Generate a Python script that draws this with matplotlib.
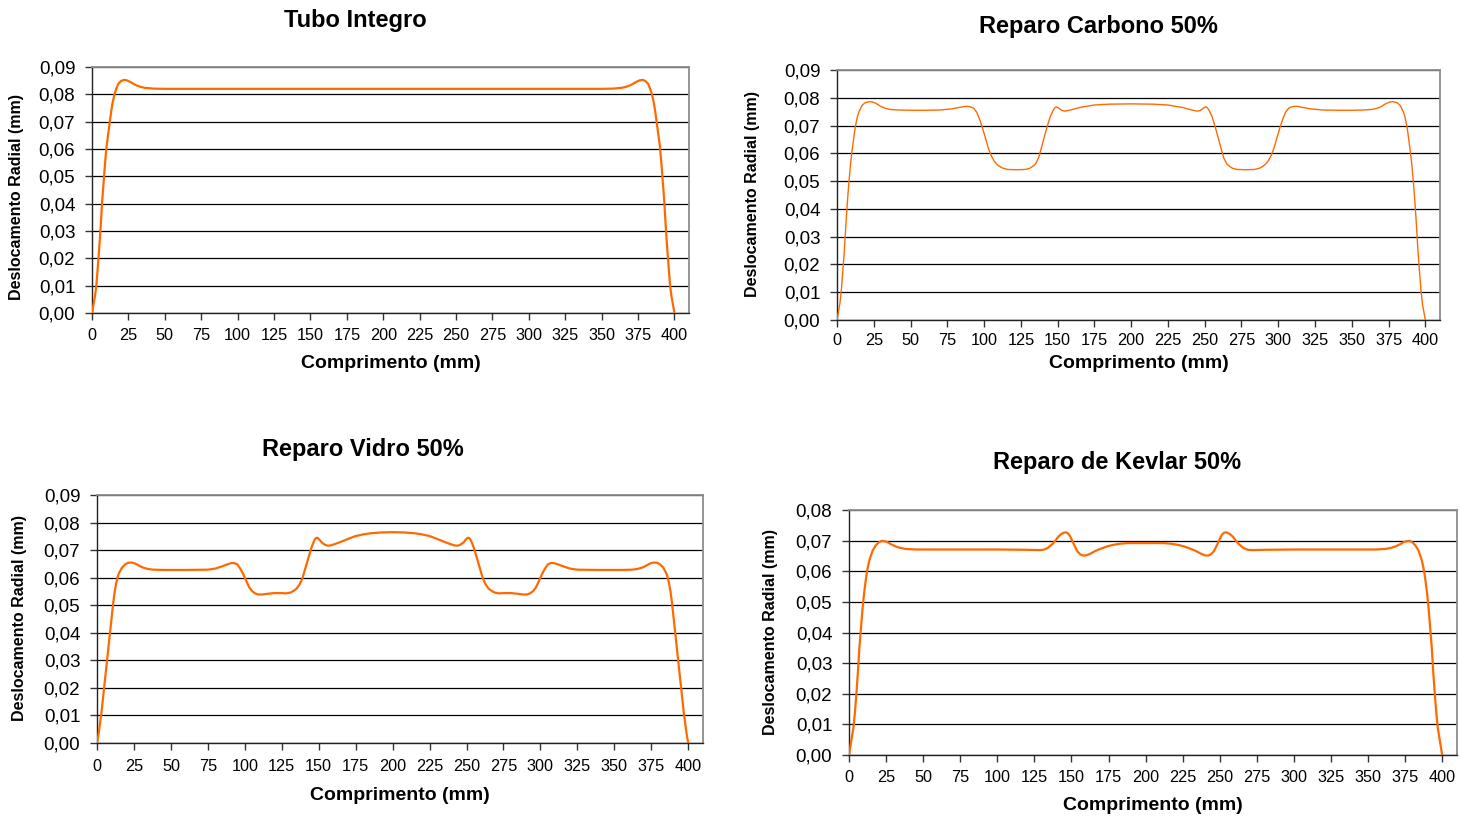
import numpy as np
import matplotlib
matplotlib.use("Agg")
import matplotlib.pyplot as plt
from matplotlib.ticker import FixedLocator, FuncFormatter

plt.rcParams['font.family'] = ['Liberation Sans', 'DejaVu Sans']

# (comprimento mm, deslocamento radial mm)
integro_pts = [
    (0, 0), (1, 0.003), (2, 0.006), (3, 0.01), (4, 0.017), (5, 0.024), (6, 0.032),
    (7, 0.041), (8, 0.048), (9, 0.055), (10, 0.061), (11, 0.065), (12, 0.069),
    (13, 0.073), (14, 0.0765), (15, 0.079), (16, 0.081), (18, 0.0838), (20, 0.0849),
    (22, 0.0853), (24, 0.0851), (26, 0.0846), (28, 0.084), (30, 0.0834), (33, 0.0828),
    (36, 0.0824), (42, 0.0821), (50, 0.082), (100, 0.082), (150, 0.082), (200, 0.082),
    (250, 0.082), (300, 0.082), (350, 0.082), (358, 0.0821), (364, 0.0824),
    (367, 0.0828), (370, 0.0834), (372, 0.084), (374, 0.0846), (376, 0.0851),
    (378, 0.0853), (380, 0.0849), (382, 0.0838), (384, 0.081), (385, 0.079),
    (386, 0.0765), (387, 0.073), (388, 0.069), (389, 0.065), (390, 0.061),
    (391, 0.055), (392, 0.048), (393, 0.041), (394, 0.032), (395, 0.024), (396, 0.017),
    (397, 0.01), (398, 0.006), (399, 0.003), (400, 0)]

carbono_pts = [
    (0, 0), (1, 0.003), (2, 0.006), (3, 0.011), (4, 0.018), (5, 0.025), (6, 0.034),
    (7, 0.042), (8, 0.049), (9, 0.055), (10, 0.060), (11, 0.064), (12, 0.068),
    (13, 0.071), (14, 0.0735), (15, 0.075), (17, 0.0772), (19, 0.0782), (22, 0.0786),
    (24, 0.0785), (26, 0.0781), (28, 0.0775), (30, 0.0768), (33, 0.0762), (36, 0.0758),
    (42, 0.0756), (50, 0.0755), (60, 0.0755), (70, 0.0756), (78, 0.076), (84, 0.0766),
    (87, 0.0769), (89, 0.0769), (91, 0.0767), (93, 0.0762), (95, 0.0748), (97, 0.0722),
    (99, 0.069), (101, 0.0653), (103, 0.0617), (105, 0.059), (107, 0.0571),
    (109, 0.0559), (112, 0.0548), (116, 0.0542), (122, 0.0541), (128, 0.0542),
    (131, 0.0546), (133, 0.0553), (135, 0.0562), (137, 0.0583), (139, 0.062),
    (141, 0.066), (143, 0.0698), (145, 0.0732), (147, 0.0755), (148, 0.0763),
    (149, 0.0767), (150, 0.0766), (151, 0.0762), (153, 0.0754), (155, 0.0752),
    (158, 0.0755), (165, 0.0765), (175, 0.0774), (185, 0.0777), (200, 0.0778),
    (215, 0.0777), (225, 0.0774), (235, 0.0765), (242, 0.0755), (245, 0.0752),
    (247, 0.0754), (249, 0.0762), (250, 0.0766), (251, 0.0767), (252, 0.0763),
    (253, 0.0755), (255, 0.0732), (257, 0.0698), (259, 0.066), (261, 0.062),
    (263, 0.0583), (265, 0.0562), (267, 0.0553), (269, 0.0546), (272, 0.0542),
    (278, 0.0541), (284, 0.0542), (288, 0.0548), (291, 0.0559), (293, 0.0571),
    (295, 0.059), (297, 0.0617), (299, 0.0653), (301, 0.069), (303, 0.0722),
    (305, 0.0748), (307, 0.0762), (309, 0.0767), (311, 0.0769), (313, 0.0769),
    (316, 0.0766), (322, 0.076), (330, 0.0756), (340, 0.0755), (350, 0.0755),
    (358, 0.0756), (364, 0.0758), (367, 0.0762), (370, 0.0768), (372, 0.0775),
    (374, 0.0781), (376, 0.0785), (378, 0.0786), (381, 0.0782), (383, 0.0772),
    (385, 0.075), (386, 0.0735), (387, 0.071), (388, 0.068), (389, 0.064), (390, 0.060),
    (391, 0.055), (392, 0.049), (393, 0.042), (394, 0.034), (395, 0.025), (396, 0.018),
    (397, 0.011), (398, 0.006), (399, 0.003), (400, 0)]

vidro_pts = [
    (0, 0), (1, 0.003), (2, 0.007), (3, 0.011), (5, 0.021), (7, 0.031), (9, 0.041),
    (11, 0.051), (12, 0.055), (13, 0.058), (14, 0.0603), (15, 0.0618), (17, 0.0637),
    (19, 0.0648), (21, 0.0654), (23, 0.0655), (25, 0.0653), (27, 0.0648), (29, 0.0642),
    (31, 0.0637), (34, 0.0632), (38, 0.0629), (45, 0.0628), (60, 0.0628), (75, 0.0629),
    (80, 0.0633), (84, 0.0640), (88, 0.0648), (91, 0.0653), (93, 0.0653), (95, 0.0648),
    (97, 0.0632), (99, 0.0612), (101, 0.0588), (103, 0.0565), (105, 0.0551),
    (107, 0.0543), (109, 0.0539), (112, 0.0539), (116, 0.0542), (120, 0.0544),
    (125, 0.0544), (128, 0.0543), (131, 0.0546), (133, 0.0552), (135, 0.056),
    (137, 0.0575), (139, 0.0598), (141, 0.0635), (143, 0.0672), (145, 0.0708),
    (147, 0.0735), (148, 0.0743), (149, 0.0745), (150, 0.0741), (152, 0.0728),
    (154, 0.0720), (156, 0.0716), (158, 0.0717), (161, 0.0722), (165, 0.073),
    (170, 0.0741), (175, 0.0751), (180, 0.0757), (185, 0.0761), (192, 0.0764),
    (200, 0.0765), (208, 0.0764), (215, 0.0761), (220, 0.0757), (225, 0.0751),
    (230, 0.0741), (235, 0.073), (239, 0.0722), (242, 0.0717), (244, 0.0716),
    (246, 0.0720), (248, 0.0728), (250, 0.0741), (251, 0.0745), (252, 0.0743),
    (253, 0.0735), (255, 0.0708), (257, 0.0672), (259, 0.0635), (261, 0.0598),
    (263, 0.0575), (265, 0.056), (267, 0.0552), (269, 0.0546), (272, 0.0543),
    (275, 0.0544), (280, 0.0544), (284, 0.0542), (288, 0.0539), (291, 0.0539),
    (293, 0.0543), (295, 0.0551), (297, 0.0565), (299, 0.0588), (301, 0.0612),
    (303, 0.0632), (305, 0.0648), (307, 0.0653), (309, 0.0653), (312, 0.0648),
    (316, 0.064), (320, 0.0633), (325, 0.0629), (340, 0.0628), (355, 0.0628),
    (362, 0.0629), (366, 0.0632), (369, 0.0637), (371, 0.0642), (373, 0.0648),
    (375, 0.0653), (377, 0.0655), (379, 0.0654), (381, 0.0648), (383, 0.0637),
    (385, 0.0618), (386, 0.0603), (387, 0.058), (388, 0.055), (389, 0.051),
    (391, 0.041), (393, 0.031), (395, 0.021), (397, 0.011), (398, 0.007),
    (399, 0.003), (400, 0)]

kevlar_pts = [
    (0, 0), (1, 0.003), (2, 0.006), (3, 0.009), (4, 0.014), (5, 0.02), (6, 0.027),
    (7, 0.035), (8, 0.041), (9, 0.047), (10, 0.052), (11, 0.056), (12, 0.0595),
    (13, 0.062), (14, 0.064), (16, 0.0668), (18, 0.0684), (20, 0.0694), (22, 0.0699),
    (24, 0.0698), (26, 0.0695), (28, 0.0689), (31, 0.0682), (34, 0.0677), (38, 0.0673),
    (45, 0.0671), (60, 0.0671), (100, 0.0671), (120, 0.067), (128, 0.0669),
    (131, 0.067), (134, 0.0676), (137, 0.0688), (139, 0.0699), (141, 0.0712),
    (143, 0.0721), (145, 0.0726), (146, 0.0727), (147, 0.0726), (148, 0.0722),
    (149, 0.0715), (150, 0.0705), (152, 0.0684), (154, 0.0665), (156, 0.0655),
    (158, 0.0651), (160, 0.0652), (163, 0.0658), (166, 0.0666), (170, 0.0674),
    (174, 0.0681), (178, 0.0686), (183, 0.069), (188, 0.0692), (200, 0.0692),
    (212, 0.0692), (217, 0.069), (222, 0.0686), (226, 0.0681), (230, 0.0674),
    (234, 0.0666), (237, 0.0658), (240, 0.0652), (242, 0.0651), (244, 0.0655),
    (246, 0.0665), (248, 0.0684), (250, 0.0705), (251, 0.0715), (252, 0.0722),
    (253, 0.0726), (254, 0.0727), (255, 0.0726), (257, 0.0721), (259, 0.0712),
    (261, 0.0699), (263, 0.0688), (266, 0.0676), (269, 0.067), (272, 0.0669),
    (280, 0.067), (300, 0.0671), (340, 0.0671), (355, 0.0671), (362, 0.0673),
    (366, 0.0677), (369, 0.0682), (372, 0.0689), (374, 0.0695), (376, 0.0698),
    (378, 0.0699), (380, 0.0694), (382, 0.0684), (384, 0.0668), (386, 0.064),
    (387, 0.062), (388, 0.0595), (389, 0.056), (390, 0.052), (391, 0.047),
    (392, 0.041), (393, 0.035), (394, 0.027), (395, 0.02), (396, 0.014), (397, 0.009),
    (398, 0.006), (399, 0.003), (400, 0)]

titles = ['Tubo Integro', 'Reparo Carbono 50%', 'Reparo Vidro 50%', 'Reparo de Kevlar 50%']
x_ticks = list(range(0, 401, 25))

W, H = 1460, 816
fig = plt.figure(figsize=(W / 100, H / 100), dpi=100)

# box = (left, right, top, bottom) in pixels; text centres in pixels
panels = [
    dict(box=(92, 689, 67, 313), pts=integro_pts, ymax=0.09, lw=1.6, xpad=6,
         title=(355, 20), xlab=(391, 363), ylab=(17, 197)),
    dict(box=(837, 1440, 70, 320), pts=carbono_pts, ymax=0.09, lw=1.0, xpad=4,
         title=(1098, 27), xlab=(1139, 364), ylab=(752, 194)),
    dict(box=(97, 703, 495, 743), pts=vidro_pts, ymax=0.09, lw=1.6, xpad=6.5,
         title=(363, 449), xlab=(400, 795), ylab=(20, 618)),
    dict(box=(849, 1457, 510, 755), pts=kevlar_pts, ymax=0.08, lw=1.6, xpad=6,
         title=(1117, 463), xlab=(1153, 805), ylab=(771, 632)),
]

for p, title in zip(panels, titles):
    l, r, t, b = p['box']
    ax = fig.add_axes([l / W, (H - b) / H, (r - l) / W, (b - t) / H])
    xs, ys = zip(*p['pts'])
    ax.plot(xs, ys, color='#ff6a00', lw=p['lw'], zorder=3, solid_joinstyle='round')
    ax.set_xlim(0, 410)
    ax.set_ylim(0, p['ymax'])
    yt = np.arange(0, p['ymax'] + 0.0001, 0.01)
    ax.yaxis.set_major_locator(FixedLocator(yt))
    ax.xaxis.set_major_locator(FixedLocator(x_ticks))
    ax.yaxis.set_major_formatter(FuncFormatter(lambda v, pos: f'{v:.2f}'.replace('.', ',')))
    ax.grid(axis='y', color='black', lw=0.9)
    ax.tick_params(axis='both', direction='out', length=5, width=1, color='#333333')
    ax.tick_params(axis='y', labelsize=13.5, pad=7)
    ax.tick_params(axis='x', labelsize=11.7, pad=p['xpad'])
    for s in ['top', 'right']:
        ax.spines[s].set_color('#8c8c8c')
        ax.spines[s].set_linewidth(1.3)
    for s in ['left', 'bottom']:
        ax.spines[s].set_color('#222222')
        ax.spines[s].set_linewidth(1.0)
    ax.set_axisbelow(True)

    tx, ty = p['title']
    fig.text(tx / W, 1 - ty / H, title, ha='center', va='center', fontsize=17,
             fontweight='bold')
    xx, xy = p['xlab']
    fig.text(xx / W, 1 - xy / H, 'Comprimento (mm)', ha='center', va='center',
             fontsize=14, fontweight='bold')
    yx, yy = p['ylab']
    fig.text(yx / W, 1 - yy / H, 'Deslocamento Radial (mm)', ha='center', va='center',
             rotation=90, fontsize=11.5, fontweight='bold')

fig.savefig('out.png', dpi=100, facecolor='white')
